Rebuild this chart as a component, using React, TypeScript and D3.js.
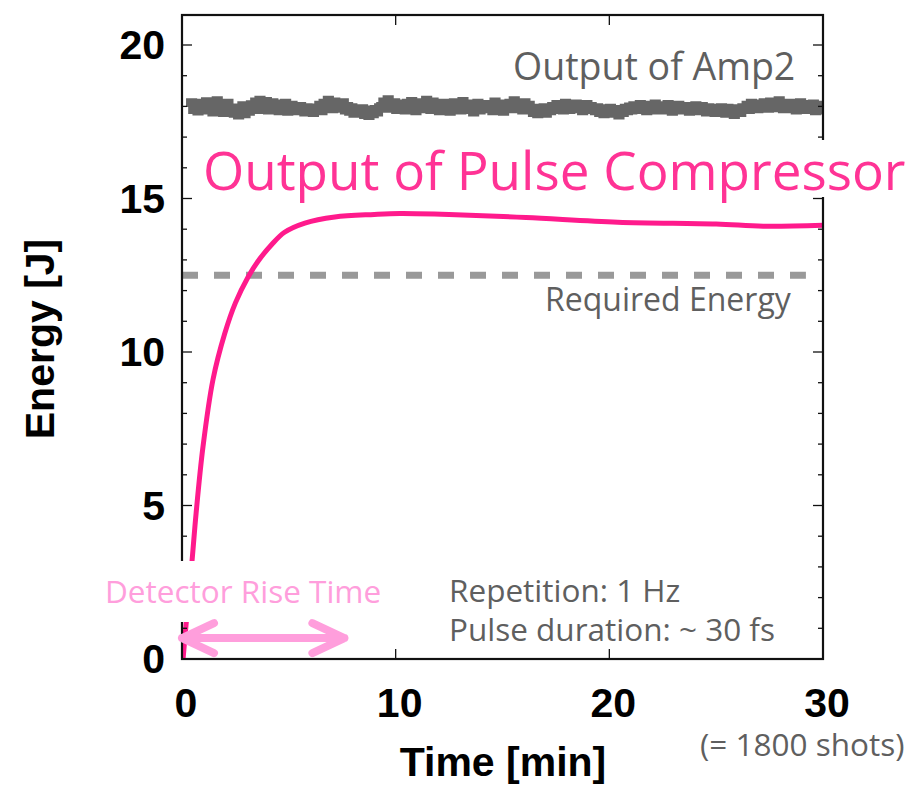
import React from "react";
import * as d3 from "d3";

// Time axis (minutes) and energy axis (J)
const xTickValues = [0, 10, 20, 30];
const yTickValues = [0, 5, 10, 15, 20];
const yMinorValues = d3.range(1, 21);

// Pulse compressor output: time [min] / energy [J]
const compTime = [0.05, 0.2, 0.47, 0.66, 0.98, 1.45, 2.0, 2.5, 3.1, 3.55, 4.2, 4.8, 5.75, 7.15, 9.0, 10.2, 12.5, 16.1, 20.4, 25.0, 27.2, 30.0];
const compEnergy = [0, 1.2, 3.2, 4.75, 6.9, 9.1, 10.6, 11.6, 12.45, 12.95, 13.5, 13.9, 14.2, 14.4, 14.48, 14.51, 14.48, 14.38, 14.23, 14.17, 14.1, 14.13];

// Amp2 output, one sample every 6 shots, starting at 0.35 min
const amp2StartMin = 0.35;
const amp2StepMin = 0.1;
const amp2Energy = [
  17.98, 18.12, 17.90, 18.05, 17.85, 18.10, 18.02, 17.88, 18.15, 17.95,
  18.08, 17.82, 18.00, 18.18, 17.92, 18.04, 17.80, 17.96, 18.10, 17.87,
  17.90, 17.78, 17.95, 17.72, 17.88, 18.02, 17.76, 17.92, 17.84, 18.05,
  17.98, 18.14, 17.90, 18.20, 18.02, 17.94, 18.16, 17.88, 18.06, 18.12,
  17.96, 18.08, 17.86, 18.02, 17.92, 18.10, 17.84, 17.98, 18.04, 17.90,
  17.94, 17.86, 18.00, 17.90, 17.82, 17.96, 17.88, 17.92, 17.80, 17.95,
  17.90, 18.04, 17.86, 18.10, 17.98, 18.20, 18.00, 17.92, 18.14, 18.02,
  18.06, 17.94, 18.12, 17.88, 18.00, 17.84, 17.96, 17.78, 17.92, 17.86,
  17.80, 17.92, 17.74, 17.88, 17.70, 17.84, 17.76, 17.90, 17.82, 17.96,
  18.00, 18.14, 17.94, 18.22, 18.06, 17.98, 18.12, 17.90, 18.08, 17.96,
  18.02, 17.88, 18.10, 17.94, 18.16, 17.98, 17.86, 18.04, 17.92, 18.12,
  17.96, 18.20, 18.02, 17.90, 18.14, 17.98, 18.08, 17.86, 18.00, 18.10,
  17.94, 18.06, 17.84, 17.98, 18.12, 17.92, 18.04, 17.88, 18.16, 17.96,
  18.08, 17.90, 18.02, 17.82, 17.96, 18.10, 17.88, 18.00, 17.94, 18.06,
  17.92, 18.04, 17.86, 18.14, 17.98, 17.90, 18.08, 17.84, 18.02, 17.96,
  18.10, 17.92, 18.18, 18.00, 17.94, 18.06, 17.88, 18.12, 17.98, 18.04,
  17.90, 17.80, 17.94, 17.76, 17.88, 17.82, 17.96, 17.78, 17.92, 17.86,
  18.00, 17.90, 18.06, 17.94, 18.02, 17.88, 18.10, 17.96, 17.90, 18.04,
  17.98, 18.08, 17.92, 18.02, 17.86, 17.96, 18.06, 17.90, 18.00, 17.94,
  17.86, 17.96, 17.80, 17.92, 17.76, 17.88, 17.82, 17.94, 17.78, 17.90,
  17.84, 17.72, 17.90, 17.80, 17.94, 17.86, 17.98, 17.88, 18.02, 17.92,
  17.96, 18.06, 17.90, 18.00, 17.86, 18.04, 17.94, 17.88, 18.08, 17.98,
  17.92, 18.02, 17.88, 17.96, 18.06, 17.90, 17.84, 17.98, 17.92, 18.04,
  17.96, 17.88, 18.00, 17.92, 17.84, 17.98, 17.90, 18.02, 17.86, 17.94,
  18.00, 17.92, 17.82, 17.96, 17.88, 17.94, 17.80, 17.90, 17.84, 17.96,
  17.90, 17.78, 17.94, 17.82, 17.88, 17.74, 17.92, 17.86, 17.80, 17.96,
  17.94, 18.04, 17.90, 18.10, 17.96, 18.02, 17.92, 18.08, 17.98, 18.12,
  18.04, 17.94, 18.14, 18.00, 18.08, 17.96, 18.18, 18.02, 17.92, 18.06,
  17.98, 18.10, 17.92, 18.04, 17.88, 18.00, 18.12, 17.94, 18.06, 17.90,
  18.02, 17.92, 18.08, 17.86, 17.98, 18.04, 17.90, 17.96, 17.88, 18.00,
];

const requiredEnergy = 12.5;
const requiredEnd = 29.2;
const riseTimeRange = [0, 7.6];
const riseArrowLevel = 0.68;

const W = 911;
const H = 787;
const frame = { left: 182, right: 823, top: 15, bottom: 659 };

const GRAY_TEXT = "#5f5f5f";
const PINK = "#ff1a8c";
const PINK_TITLE = "#ff3395";
const LIGHT_PINK = "#ff9edc";
const AXIS_FONT = "'Liberation Sans', Arial, Helvetica, sans-serif";
const NOTE_FONT = "'Open Sans', 'Noto Sans', sans-serif";

export default function App() {
  const x = d3.scaleLinear().domain([0, 30]).range([frame.left, frame.right]);
  const y = d3.scaleLinear().domain([0, 21]).range([frame.bottom, frame.bottom - 21 * 30.7]);

  const compLine = d3
    .line<number>()
    .x((_, i) => x(compTime[i]))
    .y((d) => y(d))
    .curve(d3.curveCatmullRom.alpha(0.5))(compEnergy) as string;

  // shot-to-shot trace drawn as held levels between samples
  const amp2Line = d3
    .line<number>()
    .x((_, i) => x(amp2StartMin + i * amp2StepMin))
    .y((d) => y(d))
    .curve(d3.curveStep)(amp2Energy) as string;

  const ax0 = x(riseTimeRange[0]);
  const ax1 = x(riseTimeRange[1]);
  const ay = y(riseArrowLevel);
  const head = 32;
  const headH = 15;
  const arrowPath =
    `M${ax0},${ay}L${ax1},${ay}` +
    `M${ax0 + head},${ay - headH}L${ax0},${ay}L${ax0 + head},${ay + headH}` +
    `M${ax1 - head},${ay - headH}L${ax1},${ay}L${ax1 - head},${ay + headH}`;

  return (
    <svg width={W} height={H} style={{ position: "absolute", left: 0, top: 0, background: "#fff" }}>
      <defs>
        <clipPath id="plot-clip">
          <rect x={frame.left} y={frame.top} width={frame.right - frame.left} height={frame.bottom - frame.top} />
        </clipPath>
      </defs>

      {/* data */}
      <g clipPath="url(#plot-clip)">
        <path d={amp2Line} fill="none" stroke="#666" strokeWidth={9} strokeLinejoin="miter" />
        <line
          x1={x(0)}
          x2={x(requiredEnd)}
          y1={y(requiredEnergy)}
          y2={y(requiredEnergy)}
          stroke="#999"
          strokeWidth={7}
          strokeDasharray="16 16"
        />
        <path d={compLine} fill="none" stroke={PINK} strokeWidth={5} strokeLinecap="round" />
      </g>

      {/* frame and ticks */}
      <rect
        x={frame.left}
        y={frame.top}
        width={frame.right - frame.left}
        height={frame.bottom - frame.top}
        fill="none"
        stroke="#111"
        strokeWidth={2.2}
      />
      {yMinorValues.map((v) => {
        const len = v % 5 === 0 ? 10 : 5;
        return (
          <g key={`yt${v}`} stroke="#111" strokeWidth={1.3}>
            <line x1={frame.left} x2={frame.left + len} y1={y(v)} y2={y(v)} />
            <line x1={frame.right} x2={frame.right - len} y1={y(v)} y2={y(v)} />
          </g>
        );
      })}
      {[10, 20].map((v) => (
        <g key={`xt${v}`} stroke="#111" strokeWidth={1.3}>
          <line x1={x(v)} x2={x(v)} y1={frame.bottom} y2={frame.bottom - 10} />
          <line x1={x(v)} x2={x(v)} y1={frame.top} y2={frame.top + 10} />
        </g>
      ))}

      {/* tick labels */}
      {yTickValues.map((v) => (
        <text
          key={`yl${v}`}
          x={frame.left - 17}
          y={y(v) + 14}
          textAnchor="end"
          fontFamily={AXIS_FONT}
          fontWeight="bold"
          fontSize={41}
          fill="#000"
        >
          {v}
        </text>
      ))}
      {xTickValues.map((v) => (
        <text
          key={`xl${v}`}
          x={x(v) + 4}
          y={717}
          textAnchor="middle"
          fontFamily={AXIS_FONT}
          fontWeight="bold"
          fontSize={41}
          fill="#000"
        >
          {v}
        </text>
      ))}

      {/* axis titles */}
      <text
        x={503}
        y={776}
        textAnchor="middle"
        fontFamily={AXIS_FONT}
        fontWeight="bold"
        fontSize={41}
        fill="#000"
      >
        Time [min]
      </text>
      <text
        transform="translate(54,339) rotate(-90)"
        textAnchor="middle"
        fontFamily={AXIS_FONT}
        fontWeight="bold"
        fontSize={41}
        fill="#000"
      >
        Energy [J]
      </text>

      {/* annotations */}
      <text x={513} y={80} fontFamily={NOTE_FONT} fontSize={37.5} fill={GRAY_TEXT}>
        Output of Amp2
      </text>
      <rect x={198} y={140} width={713} height={57} fill="#fff" />
      <text x={203} y={190} fontFamily={NOTE_FONT} fontSize={53} fill={PINK_TITLE}>
        Output of Pulse Compressor
      </text>
      <text x={545} y={311} fontFamily={NOTE_FONT} fontSize={32} fill={GRAY_TEXT}>
        Required Energy
      </text>

      <rect x={100} y={561} width={290} height={61} fill="#fff" />
      <text x={105} y={603} fontFamily={NOTE_FONT} fontSize={31.5} fill={LIGHT_PINK}>
        Detector Rise Time
      </text>
      <path d={arrowPath} fill="none" stroke={LIGHT_PINK} strokeWidth={8} strokeLinecap="round" strokeLinejoin="round" />

      <text x={449} y={602} fontFamily={NOTE_FONT} fontSize={31.5} fill={GRAY_TEXT}>
        Repetition: 1 Hz
      </text>
      <text x={449} y={641} fontFamily={NOTE_FONT} fontSize={31.5} fill={GRAY_TEXT}>
        Pulse duration: ~ 30 fs
      </text>
      <text x={700} y={756} fontFamily={NOTE_FONT} fontSize={31.5} fill={GRAY_TEXT}>
        (= 1800 shots)
      </text>
    </svg>
  );
}
